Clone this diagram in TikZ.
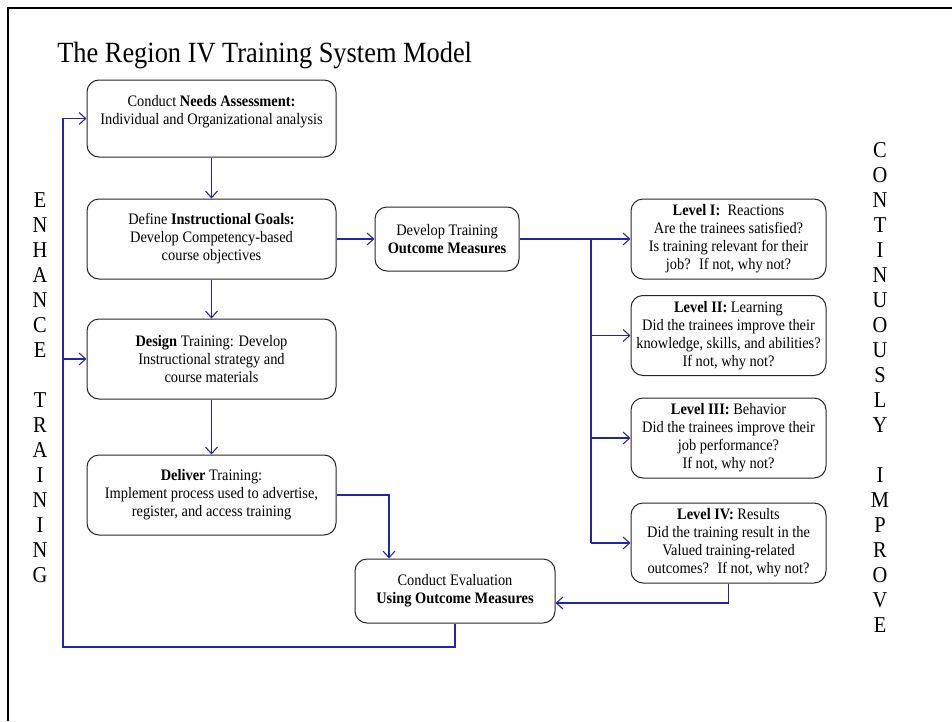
\documentclass[tikz,border=0pt]{standalone}
\usepackage{fontspec}
\setmainfont{Liberation Serif}[FakeStretch=0.9]
\usetikzlibrary{arrows.meta}
\definecolor{linkblue}{RGB}{36,36,168}

\begin{document}
\begin{tikzpicture}[x=0.75pt,y=-0.75pt,
  box/.style={draw=black!85,line width=0.75pt,rounded corners=9pt,align=center,inner sep=2pt,
    minimum width=186.75pt,minimum height=60pt,font=\fontsize{12}{13.5}\selectfont},
  levelbox/.style={box,minimum width=146.25pt},
  smallbox/.style={box,minimum height=48pt},
  bus/.style={draw=linkblue,line width=0.8pt},
  link/.style={bus,-{Straight Barb[length=5pt,width=9pt]}},
  side/.style={align=center,font=\fontsize{17}{18.75}\selectfont}]
\useasboundingbox (0,0) rectangle (952,721);
% slide frame
\draw[line width=1.6pt] (8,721) -- (8,8) -- (952,8);

\node[anchor=base west,inner sep=0pt,font=\fontsize{22}{26}\selectfont] (title) at (57,62) {The Region IV Training System Model};

% left column
\node[box,minimum height=57.75pt] (needs) at (211.5,118.5) {Conduct \textbf{Needs Assessment:}\\Individual and Organizational analysis\\\mbox{}};
\node[box] (goals)   at (211.5,239) {Define \textbf{Instructional Goals:}\\Develop Competency-based\\course objectives};
\node[box] (design)  at (211.5,359) {\textbf{Design} Training: Develop\\Instructional strategy and\\course materials};
\node[box] (deliver) at (211.5,495) {\textbf{Deliver} Training:\\Implement process used to advertise,\\register, and access training};

\node[smallbox,minimum width=108pt] (outcome) at (447,239) {Develop Training\\\textbf{Outcome Measures}};
\node[smallbox,minimum width=150pt] (eval) at (455,591) {Conduct Evaluation\\\textbf{Using Outcome Measures}};

% evaluation levels
\node[levelbox] (lev1) at (728.5,239)   {\textbf{Level I:}~ Reactions\\Are the trainees satisfied?\\Is training relevant for their\\job?~ If not, why not?};
\node[levelbox] (lev2) at (728.5,335.5) {\textbf{Level II:} Learning\\Did the trainees improve their\\knowledge, skills, and abilities?\\If not, why not?};
\node[levelbox] (lev3) at (728.5,438)   {\textbf{Level III:} Behavior\\Did the trainees improve their\\job performance?\\If not, why not?};
\node[levelbox] (lev4) at (728.5,543)   {\textbf{Level IV:} Results\\Did the training result in the\\Valued training-related\\outcomes?~ If not, why not?};

\node[side] (enhance) at (40,387.5) {E\\N\\H\\A\\N\\C\\E\\[18.75pt]T\\R\\A\\I\\N\\I\\N\\G};
\node[side] (improve) at (880,387.5) {C\\O\\N\\T\\I\\N\\U\\O\\U\\S\\L\\Y\\[18.75pt]I\\M\\P\\R\\O\\V\\E};

% connectors
\coordinate (split) at (591,239);
\coordinate (drop) at (389,0);
\coordinate (loop) at (63,647);

\draw[link] (needs) -- (goals);
\draw[link] (goals) -- (design);
\draw[link] (design) -- (deliver);
\draw[link] (goals) -- (outcome);

\draw[bus]  (outcome.east) -- (split);
\draw[bus]  (split) -- (split |- lev4.west);
\draw[link] (split) -- (lev1.west);
\draw[link] (split |- lev2.west) -- (lev2.west);
\draw[link] (split |- lev3.west) -- (lev3.west);
\draw[link] (split |- lev4.west) -- (lev4.west);

\draw[link] (deliver.east) -| (drop |- eval.north);
\draw[link] (lev4.south) |- ([yshift=-9pt]eval.east);
\draw[link] (eval.south) |- (loop) |- (needs.west);
\draw[link] (loop |- design.west) -- (design.west);
\end{tikzpicture}
\end{document}
